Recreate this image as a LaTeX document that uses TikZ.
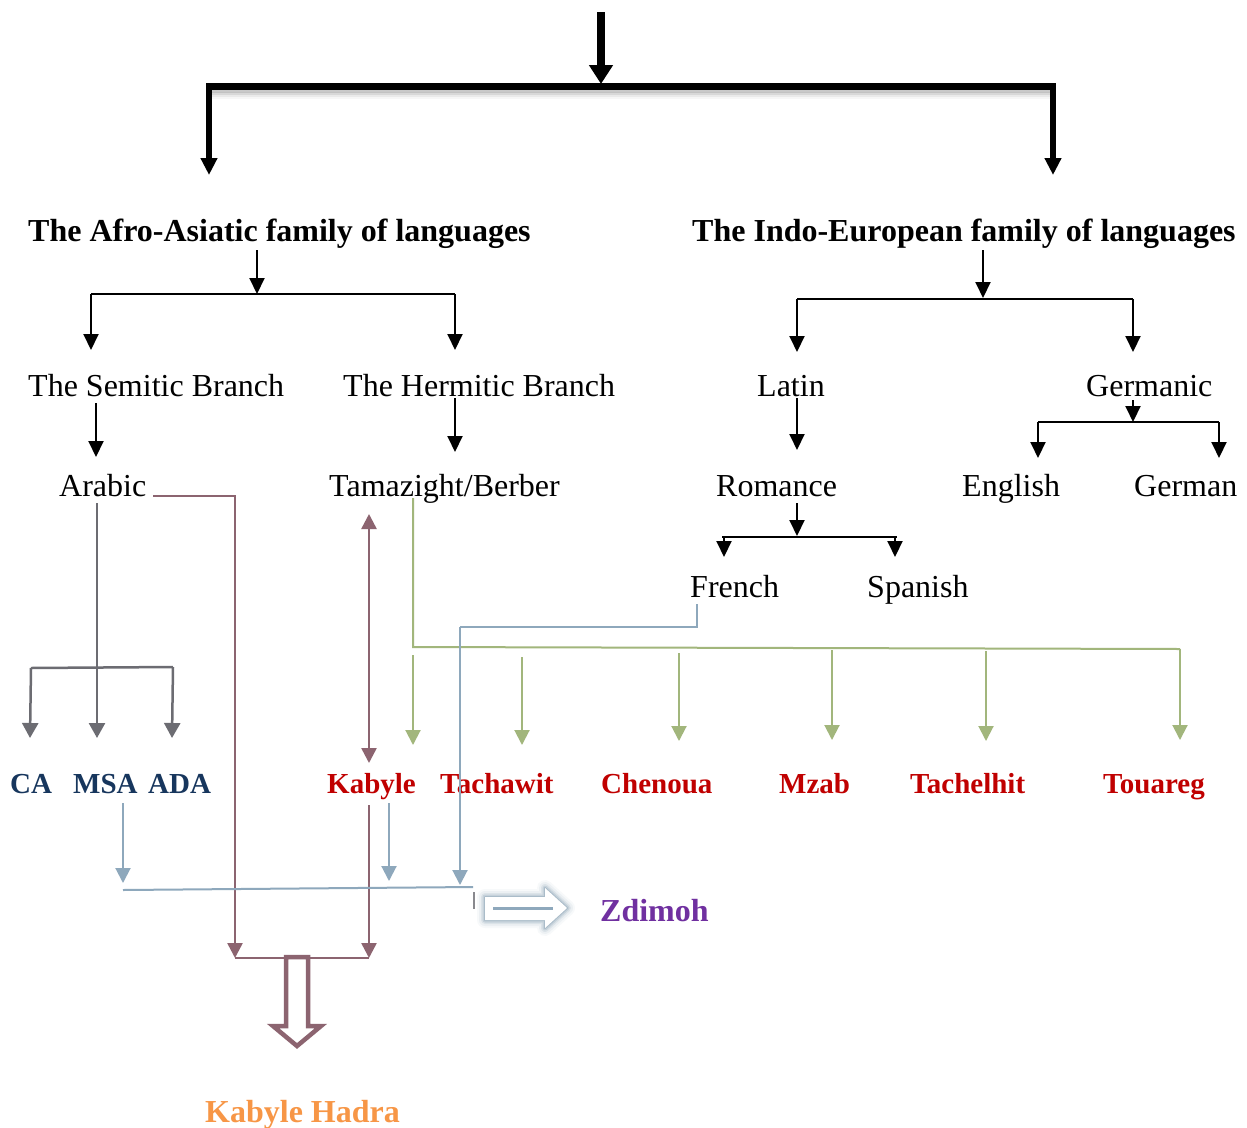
\documentclass[tikz,border=0pt]{standalone}
\usepackage{fontspec}
\setmainfont{Liberation Serif}
\usetikzlibrary{arrows.meta,calc}
\definecolor{navy}{RGB}{23,54,93}
\definecolor{leafred}{RGB}{192,0,0}
\definecolor{zpurple}{RGB}{112,48,160}
\definecolor{horange}{RGB}{247,150,70}
\definecolor{mauve}{RGB}{140,100,112}
\definecolor{bluegray}{RGB}{142,168,188}
\definecolor{glowblue}{RGB}{110,140,165}
\definecolor{sage}{RGB}{162,182,124}
\definecolor{slate}{RGB}{108,108,114}
\begin{document}
\begin{tikzpicture}[x=1pt,y=-1pt,
  reg/.style={anchor=base west,inner sep=0pt,font=\fontsize{32}{38}\selectfont},
  hdr/.style={anchor=base west,inner sep=0pt,font=\fontsize{32}{38}\selectfont\bfseries},
  leaf/.style={anchor=base west,inner sep=0pt,font=\fontsize{29}{34}\selectfont\bfseries},
  big/.style={anchor=base west,inner sep=0pt,font=\fontsize{32}{38}\selectfont\bfseries},
  thin/.style={line width=2pt,black,-{Triangle[length=16pt,width=15pt]}},
  plain/.style={line width=2pt,black},
  grayarr/.style={line width=2.5pt,slate,-{Triangle[length=15pt,width=16pt]}},
  mauvearr/.style={line width=2.5pt,mauve,-{Triangle[length=15pt,width=15pt]}},
  greenarr/.style={line width=2pt,sage,-{Triangle[length=15pt,width=15pt]}},
  bluearr/.style={line width=2pt,bluegray,-{Triangle[length=15pt,width=15pt]}},
  heavy/.style={line width=5.5pt,-{Triangle[length=17pt,width=16pt]}},
]
\useasboundingbox (0,0) rectangle (1247,1127);
\fill[white] (0,0) rectangle (1247,1127);

% ---------- labels ----------
\node[hdr] (afro) at (28,241) {The Afro-Asiatic family of languages};
\node[hdr] (indo) at (692,241) {The Indo-European family of languages};
\node[reg] (semitic) at (28,396) {The Semitic Branch};
\node[reg] (hermitic) at (343,396) {The Hermitic Branch};
\node[reg] (latin) at (757,396) {Latin};
\node[reg] (germanic) at (1086,396) {Germanic};
\node[reg] (arabic) at (59,496) {Arabic};
\node[reg] (tamazight) at (329,496) {Tamazight/Berber};
\node[reg] (romance) at (716,496) {Romance};
\node[reg] (english) at (962,496) {English};
\node[reg] (german) at (1134,496) {German};
\node[reg] (french) at (690,597) {French};
\node[reg] (spanish) at (867,597) {Spanish};
\node[leaf,navy] (ca) at (10,793) {CA};
\node[leaf,navy] (msa) at (73,793) {MSA};
\node[leaf,navy] (ada) at (148,793) {ADA};
\node[leaf,leafred] (kabyle) at (327,793) {Kabyle};
\node[leaf,leafred] (tachawit) at (440,793) {Tachawit};
\node[leaf,leafred] (chenoua) at (601,793) {Chenoua};
\node[leaf,leafred] (mzab) at (779,793) {Mzab};
\node[leaf,leafred] (tachelhit) at (910,793) {Tachelhit};
\node[leaf,leafred] (touareg) at (1103,793) {Touareg};
\node[big,zpurple] (zdimoh) at (600,921) {Zdimoh};
\node[big,horange] (hadra) at (205,1122) {Kabyle Hadra};

% ---------- junction points ----------
\coordinate (root) at (601,12);
\coordinate (rootJ) at (601,84);
\coordinate (barL) at (206,86.5);
\coordinate (barR) at (1056,86.5);
\coordinate (afroTop) at (209,83);
\coordinate (afroTip) at (209,175);
\coordinate (indoTop) at (1053,83);
\coordinate (indoTip) at (1053,175);

% ---------- top split with soft shadow ----------
\foreach \o/\a in {3/0.10,5/0.07,7/0.05,9/0.03}
  \draw[line width=7pt,black,opacity=\a] ($(barL)+(3,\o)$) -- ($(barR)+(0,\o)$);
\draw[line width=7pt] (barL) -- (barR);
\draw[line width=8pt,-{Triangle[length=19pt,width=23pt]}] (root) -- (rootJ);
\draw[heavy] (afroTop) -- (afroTip);
\draw[heavy] (indoTop) -- (indoTip);

% ---------- Afro-Asiatic ----------
\coordinate (aJ) at (257,294);
\coordinate (aL) at (91,294);
\coordinate (aR) at (455,294);
\draw[thin] (257,250) -- (aJ);
\draw[plain] (aL) -- (aR);
\draw[thin] (aL) -- (91,350);
\draw[thin] (aR) -- (455,350);
\draw[thin] (96,403) -- (96,457);
\draw[thin] (455,398) -- (455,452);

% ---------- Indo-European ----------
\coordinate (iJ) at (983,298);
\coordinate (iL) at (797,299);
\coordinate (iR) at (1133,299);
\draw[thin] (983,250) -- (iJ);
\draw[plain] (iL) -- (iR);
\draw[thin] (iL) -- (797,352);
\draw[thin] (iR) -- (1133,352);
\draw[thin] (797,398) -- (797,450);
\coordinate (gL) at (1038,422);
\coordinate (gR) at (1219,422);
\draw[thin] (1133,400) -- (1133,422);
\draw[plain] (gL) -- (gR);
\draw[thin] (gL) -- (1038,458);
\draw[thin] (gR) -- (1219,458);
\coordinate (rL) at (724,537);
\coordinate (rR) at (895,537);
\draw[thin] (797,503) -- (797,536);
\draw[plain] (722,537) -- (897,537);
\draw[thin] (rL) -- (724,557);
\draw[thin] (rR) -- (895,557);

% ---------- Arabic varieties ----------
\coordinate (arL) at (31,668);
\coordinate (arR) at (173,667);
\draw[grayarr] (97,503) -- (97,738);
\draw[line width=2.5pt,slate] (arL) -- (arR);
\draw[grayarr] (arL) -- (30,738);
\draw[grayarr] (arR) -- (172,738);

% ---------- Berber varieties ----------
\coordinate (bJ) at (413,647);
\coordinate (bR) at (1180,649);
\draw[line width=2pt,sage] (413,498) -- (bJ) -- (bR);
\draw[greenarr] (bR) -- (1180,740);
\foreach \x/\s/\e in {413/655/745, 522/657/745, 679/653/741, 832/650/740, 986/651/741}
  \draw[greenarr] (\x,\s) -- (\x,\e);

% ---------- Kabyle Hadra (mauve) ----------
\coordinate (hL) at (235,958);
\coordinate (hR) at (369,958);
\draw[mauvearr] (153,496) -| (hL);
\draw[mauvearr] (369,805) -- (hR);
\draw[line width=2.5pt,mauve] (hL) -- (hR);
\draw[line width=2.5pt,mauve,{Triangle[length=15pt,width=15pt]}-{Triangle[length=15pt,width=15pt]}] (369,514) -- (369,763);
\draw[line width=4.5pt,mauve,fill=white,line join=miter]
  (286,957) -- (308,957) -- (308,1026) -- (321,1026) -- (297,1046)
  -- (273,1026) -- (286,1026) -- cycle;

% ---------- Zdimoh (blue-gray) ----------
\coordinate (zL) at (123,890);
\coordinate (zR) at (473,887);
\draw[line width=2pt,bluegray] (697,604) -- (697,627) -- (460,627);
\draw[bluearr] (460,627) -- (460,885);
\draw[bluearr] (123,803) -- (123,883);
\draw[bluearr] (389,803) -- (389,881);
\draw[line width=2pt,bluegray] (zL) -- (zR);
\draw[line width=2pt,slate!80] (474,892) -- (474,909);
\foreach \w/\a in {16/0.05,12/0.08,8/0.13,5/0.2,2/0.3}
  \draw[line width=\w pt,glowblue,opacity=\a,line join=round]
    (485,897) -- (545,897) -- (545,888) -- (567,908) -- (545,928) -- (545,920) -- (485,920) -- cycle;
\fill[white]
  (485,897) -- (545,897) -- (545,888) -- (567,908) -- (545,928) -- (545,920) -- (485,920) -- cycle;
\draw[line width=3pt,bluegray] (493,908) -- (553,908);
\end{tikzpicture}
\end{document}
